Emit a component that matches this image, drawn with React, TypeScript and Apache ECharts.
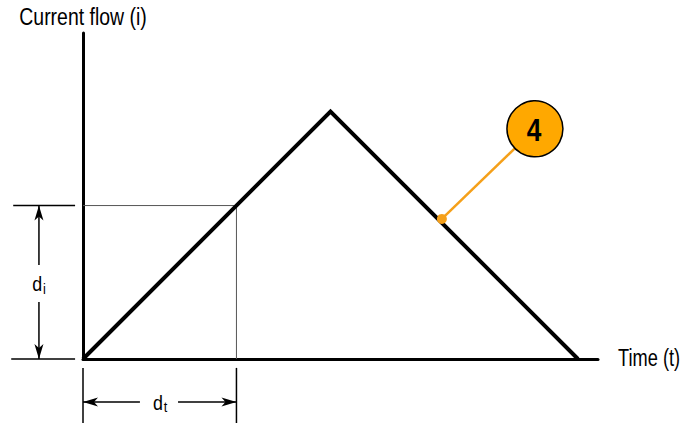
import React, { useEffect, useRef } from "react";
import * as echarts from "echarts";

// Chart data (time units / current units)
const waveTime = [0, 5, 10];
const waveCurrent = [0, 5, 0];
const refLevel = 3.1; // di level and dt time
const axisMaxT = 10.404;
const axisMaxI = 6.586;

// annotation segments: x1, y1, x2, y2, kind (0 thin guide, 1 dimension line)
const guideSegments = [
  [0, refLevel, refLevel, refLevel, 0],
  [refLevel, refLevel, refLevel, 0, 0],
];
const dimensionSegments = [
  [-1.41, 3.1, -0.16, 3.1, 1],
  [-1.45, 0, -0.16, 0, 1],
  [-0.89, 3.1, -0.89, 1.9, 1],
  [-0.89, 1.15, -0.89, 0, 1],
  [0, -0.18, 0, -1.3, 1],
  [3.1, -0.18, 3.1, -1.3, 1],
  [0, -0.87, 1.15, -0.87, 1],
  [1.92, -0.87, 3.1, -0.87, 1],
];
// x, y, direction (0 up, 1 down, 2 left, 3 right)
const arrowHeads = [
  [-0.89, 3.1, 0],
  [-0.89, 0, 1],
  [0, -0.87, 2],
  [3.1, -0.87, 3],
];
const diLabelPos = [-0.89, 1.52];
const dtLabelPos = [1.56, -0.87];
const calloutPoint = [7.25, 2.83];
const calloutBadge = [9.13, 4.65];
const calloutText = "4";
const yAxisTitle = "Current flow (i)";
const xAxisTitle = "Time (t)";

const FONT = "'Liberation Sans', Arial, sans-serif";

export default function App() {
  const ref = useRef<HTMLDivElement>(null);
  useEffect(() => {
    document.body.style.margin = "0";
    const chart = echarts.init(ref.current!, undefined, { renderer: "svg" });
    const wave = waveTime.map((t, i) => [t, waveCurrent[i]]);
    const hiddenAxis = {
      type: "value",
      min: 0,
      axisLine: { show: true, onZero: false, lineStyle: { color: "#000", width: 3 } },
      axisTick: { show: false },
      axisLabel: { show: false },
      splitLine: { show: false },
    };
    const segSeries = (data: number[][], z: number) => ({
      type: "custom",
      silent: true,
      clip: false,
      z,
      data,
      renderItem: (params: any, api: any) => {
        const a = api.coord([api.value(0), api.value(1)]);
        const b = api.coord([api.value(2), api.value(3)]);
        const kind = api.value(4);
        return {
          type: "line",
          shape: { x1: a[0], y1: a[1], x2: b[0], y2: b[1] },
          style: kind === 0 ? { stroke: "#555", lineWidth: 1 } : { stroke: "#000", lineWidth: 1.5 },
        };
      },
    });
    chart.setOption({
      animation: false,
      grid: { left: 83, right: 86, top: 33, bottom: 64, outerBoundsMode: "none", containLabel: false },
      xAxis: { ...hiddenAxis, max: axisMaxT },
      yAxis: { ...hiddenAxis, max: axisMaxI },
      series: [
        segSeries(guideSegments, 1),
        segSeries(dimensionSegments, 2),
        {
          type: "line",
          data: wave,
          symbol: "none",
          silent: true,
          clip: false,
          z: 3,
          lineStyle: { color: "#000", width: 4, join: "miter" },
        },
        {
          type: "line",
          data: [calloutPoint, calloutBadge],
          symbol: "none",
          silent: true,
          clip: false,
          z: 4,
          lineStyle: { color: "#F5A01A", width: 2.5 },
        },
        {
          type: "custom",
          silent: true,
          clip: false,
          data: arrowHeads,
          z: 3,
          renderItem: (params: any, api: any) => {
            const p = api.coord([api.value(0), api.value(1)]);
            const dir = api.value(2);
            const L = 15, W = 4.5, N = 11;
            const base: number[][] = [[0, 0], [-W, L], [0, N], [W, L]];
            const pts = base.map(([a, b]) => {
              if (dir === 0) return [p[0] + a, p[1] + b];
              if (dir === 1) return [p[0] + a, p[1] - b];
              if (dir === 2) return [p[0] + b, p[1] + a];
              return [p[0] - b, p[1] + a];
            });
            return { type: "polygon", shape: { points: pts }, style: { fill: "#000" } };
          },
        },
        {
          type: "scatter",
          silent: true,
          clip: false,
          symbolSize: 10,
          z: 6,
          itemStyle: { color: "#F5A01A", opacity: 1 },
          data: [calloutPoint],
        },
        {
          type: "scatter",
          silent: true,
          clip: false,
          symbolSize: 56,
          z: 7,
          itemStyle: { color: "#FFA800", borderColor: "#000", borderWidth: 1.5, opacity: 1 },
          data: [calloutBadge],
        },
      ],
    });
    const px = (p: number[]) => chart.convertToPixel({ gridIndex: 0 }, p) as number[];
    const top = px([0, axisMaxI]);
    const end = px([axisMaxT, 0]);
    const di = px(diLabelPos);
    const dt = px(dtLabelPos);
    const badge = px(calloutBadge);
    const rich = {
      d: { fontFamily: FONT, fontSize: 21, fill: "#000" },
      s: { fontFamily: FONT, fontSize: 15, fill: "#000", padding: [9, 0, 0, 1] },
    };
    chart.setOption({
      graphic: [
        {
          type: "text",
          x: top[0],
          y: top[1] - 16,
          scaleX: 0.81,
          style: { text: yAxisTitle, font: `24px ${FONT}`, fill: "#000", align: "center", verticalAlign: "middle" },
        },
        {
          type: "text",
          x: end[0] + 20,
          y: end[1] - 1,
          scaleX: 0.76,
          style: { text: xAxisTitle, font: `24px ${FONT}`, fill: "#000", align: "left", verticalAlign: "middle" },
        },
        {
          type: "text",
          x: di[0],
          y: di[1],
          scaleX: 0.85,
          style: { text: "{d|d}{s|i}", rich, fill: "#000", align: "center", verticalAlign: "middle" },
        },
        {
          type: "text",
          x: dt[0],
          y: dt[1],
          scaleX: 0.85,
          style: { text: "{d|d}{s|t}", rich, fill: "#000", align: "center", verticalAlign: "middle" },
        },
        {
          type: "text",
          x: badge[0] - 1,
          y: badge[1] + 1,
          z: 100,
          scaleX: 0.82,
          style: { text: calloutText, font: `bold 32px ${FONT}`, fill: "#000", align: "center", verticalAlign: "middle" },
        },
      ],
    });
    return () => chart.dispose();
  }, []);
  return <div ref={ref} style={{ width: 684, height: 423 }} />;
}
